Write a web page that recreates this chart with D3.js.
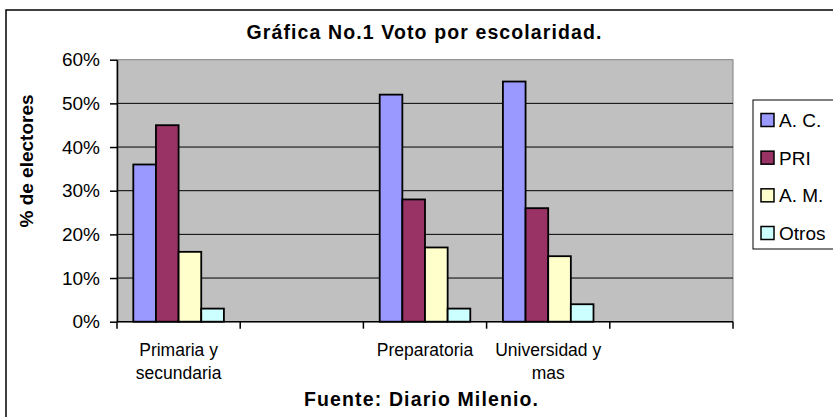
<!DOCTYPE html>
<html>
<head>
<meta charset="utf-8">
<script src="https://cdn.jsdelivr.net/npm/d3@7"></script>
<style>
  body { margin: 0; background: #fff; }
  text { font-family: "Liberation Sans", Arial, sans-serif; fill: #000; }
</style>
</head>
<body>
<svg id="chart" width="833" height="417"></svg>
<script>
// chart values
const categories = ['Primaria y|secundaria', '', 'Preparatoria', 'Universidad y|mas', '']
const series = ['A. C.', 'PRI', 'A. M.', 'Otros']
const colors = ['#9999FF', '#993366', '#FFFFCC', '#CCFFFF']
const values = {
  'A. C.': [0.36, null, 0.52, 0.55, null],
  'PRI':   [0.45, null, 0.28, 0.26, null],
  'A. M.': [0.16, null, 0.17, 0.15, null],
  'Otros': [0.03, null, 0.03, 0.04, null]
}
const yTicks = [0, 0.1, 0.2, 0.3, 0.4, 0.5, 0.6]

const svg = d3.select('#chart')

// outer chart border (runs off the picture at right and bottom)
svg.append('rect')
  .attr('x', 6).attr('y', 10)
  .attr('width', 840).attr('height', 420)
  .attr('fill', '#fff').attr('stroke', '#000').attr('stroke-width', 1.5)

let plot = { left: 117, right: 733, top: 59.7, bottom: 321.7 }

let x = d3.scaleBand()
  .domain(d3.range(categories.length))
  .range([plot.left, plot.right])

let xs = d3.scaleBand()
  .domain(series)
  .range([0, x.bandwidth()])
  .paddingInner(0)
  .paddingOuter(0.72)

let y = d3.scaleLinear()
  .domain([0, 0.6])
  .range([plot.bottom, plot.top])

// plot area
svg.append('rect')
  .attr('x', plot.left).attr('y', plot.top)
  .attr('width', plot.right - plot.left).attr('height', plot.bottom - plot.top)
  .attr('fill', '#C0C0C0').attr('stroke', '#808080').attr('stroke-width', 1)

// gridlines
svg.append('g')
  .selectAll('line')
  .data(yTicks.filter(d => d > 0 && d < 0.6))
  .join('line')
  .attr('x1', plot.left).attr('x2', plot.right)
  .attr('y1', d => y(d)).attr('y2', d => y(d))
  .attr('stroke', '#000').attr('stroke-width', 1)

// bars
svg.append('g')
  .selectAll('g')
  .data(series)
  .join('g')
  .attr('fill', (d, i) => colors[i])
  .selectAll('rect')
  .data(s => values[s].map((v, i) => ({ s, i, v })).filter(d => d.v != null))
  .join('rect')
  .attr('x', d => x(d.i) + xs(d.s))
  .attr('width', xs.bandwidth())
  .attr('y', d => y(d.v))
  .attr('height', d => y(0) - y(d.v))
  .attr('stroke', '#000').attr('stroke-width', 1.8)

// y axis
let yAxis = svg.append('g')
  .attr('transform', `translate(${plot.left},0)`)
  .call(d3.axisLeft(y).tickValues(yTicks).tickFormat(d3.format('.0%')).tickSize(7).tickSizeOuter(0))
yAxis.select('.domain').attr('stroke', '#000').attr('stroke-width', 1.5)
yAxis.selectAll('.tick line').attr('stroke', '#000').attr('stroke-width', 1.5)
yAxis.selectAll('.tick text')
  .attr('x', -17)
  .style('font-size', '19px')
  .style('font-family', '"Liberation Sans", Arial, sans-serif')

// x axis: ticks at category boundaries
let xAxisG = svg.append('g')
xAxisG.append('line')
  .attr('x1', plot.left).attr('x2', plot.right)
  .attr('y1', plot.bottom).attr('y2', plot.bottom)
  .attr('stroke', '#000').attr('stroke-width', 1.5)
xAxisG.selectAll('line.tk')
  .data(d3.range(categories.length + 1))
  .join('line')
  .attr('class', 'tk')
  .attr('x1', d => plot.left + d * x.step()).attr('x2', d => plot.left + d * x.step())
  .attr('y1', plot.bottom).attr('y2', plot.bottom + 7)
  .attr('stroke', '#000').attr('stroke-width', 1.5)

// category labels
xAxisG.selectAll('text.cat')
  .data(categories)
  .join('text')
  .attr('class', 'cat')
  .attr('text-anchor', 'middle')
  .attr('x', (d, i) => x(i) + x.bandwidth() / 2)
  .attr('y', 356)
  .style('font-size', '17.5px')
  .each(function (d) {
    let lines = d.split('|')
    d3.select(this).selectAll('tspan')
      .data(lines)
      .join('tspan')
      .attr('x', d3.select(this).attr('x'))
      .attr('dy', (l, j) => j === 0 ? 0 : 23)
      .text(l => l)
  })

// title
svg.append('text')
  .attr('x', 424).attr('y', 39)
  .attr('text-anchor', 'middle')
  .attr('textLength', 355)
  .style('font-size', '19.5px').style('font-weight', 'bold')
  .text('Gráfica No.1 Voto por escolaridad.')

// y axis title
svg.append('text')
  .attr('transform', 'translate(33,161) rotate(-90)')
  .attr('text-anchor', 'middle')
  .style('font-size', '19px').style('font-weight', 'bold')
  .text('% de electores')

// source
svg.append('text')
  .attr('x', 421).attr('y', 406)
  .attr('text-anchor', 'middle')
  .attr('textLength', 234)
  .style('font-size', '19.5px').style('font-weight', 'bold')
  .text('Fuente: Diario Milenio.')

// legend
let legend = svg.append('g')
legend.append('rect')
  .attr('x', 753).attr('y', 100)
  .attr('width', 100).attr('height', 149)
  .attr('fill', '#fff').attr('stroke', '#000').attr('stroke-width', 1)

let legendY = d3.scalePoint().domain(series).range([120, 233])

let item = legend.selectAll('g.item')
  .data(series)
  .join('g')
  .attr('class', 'item')
  .attr('transform', d => `translate(761,${legendY(d)})`)
item.append('rect')
  .attr('x', 0).attr('y', -6.5)
  .attr('width', 13).attr('height', 13)
  .attr('fill', (d, i) => colors[i])
  .attr('stroke', '#000').attr('stroke-width', 1.5)
item.append('text')
  .attr('x', 18).attr('y', 7)
  .style('font-size', '19px')
  .text(d => d)
</script>
</body>
</html>
